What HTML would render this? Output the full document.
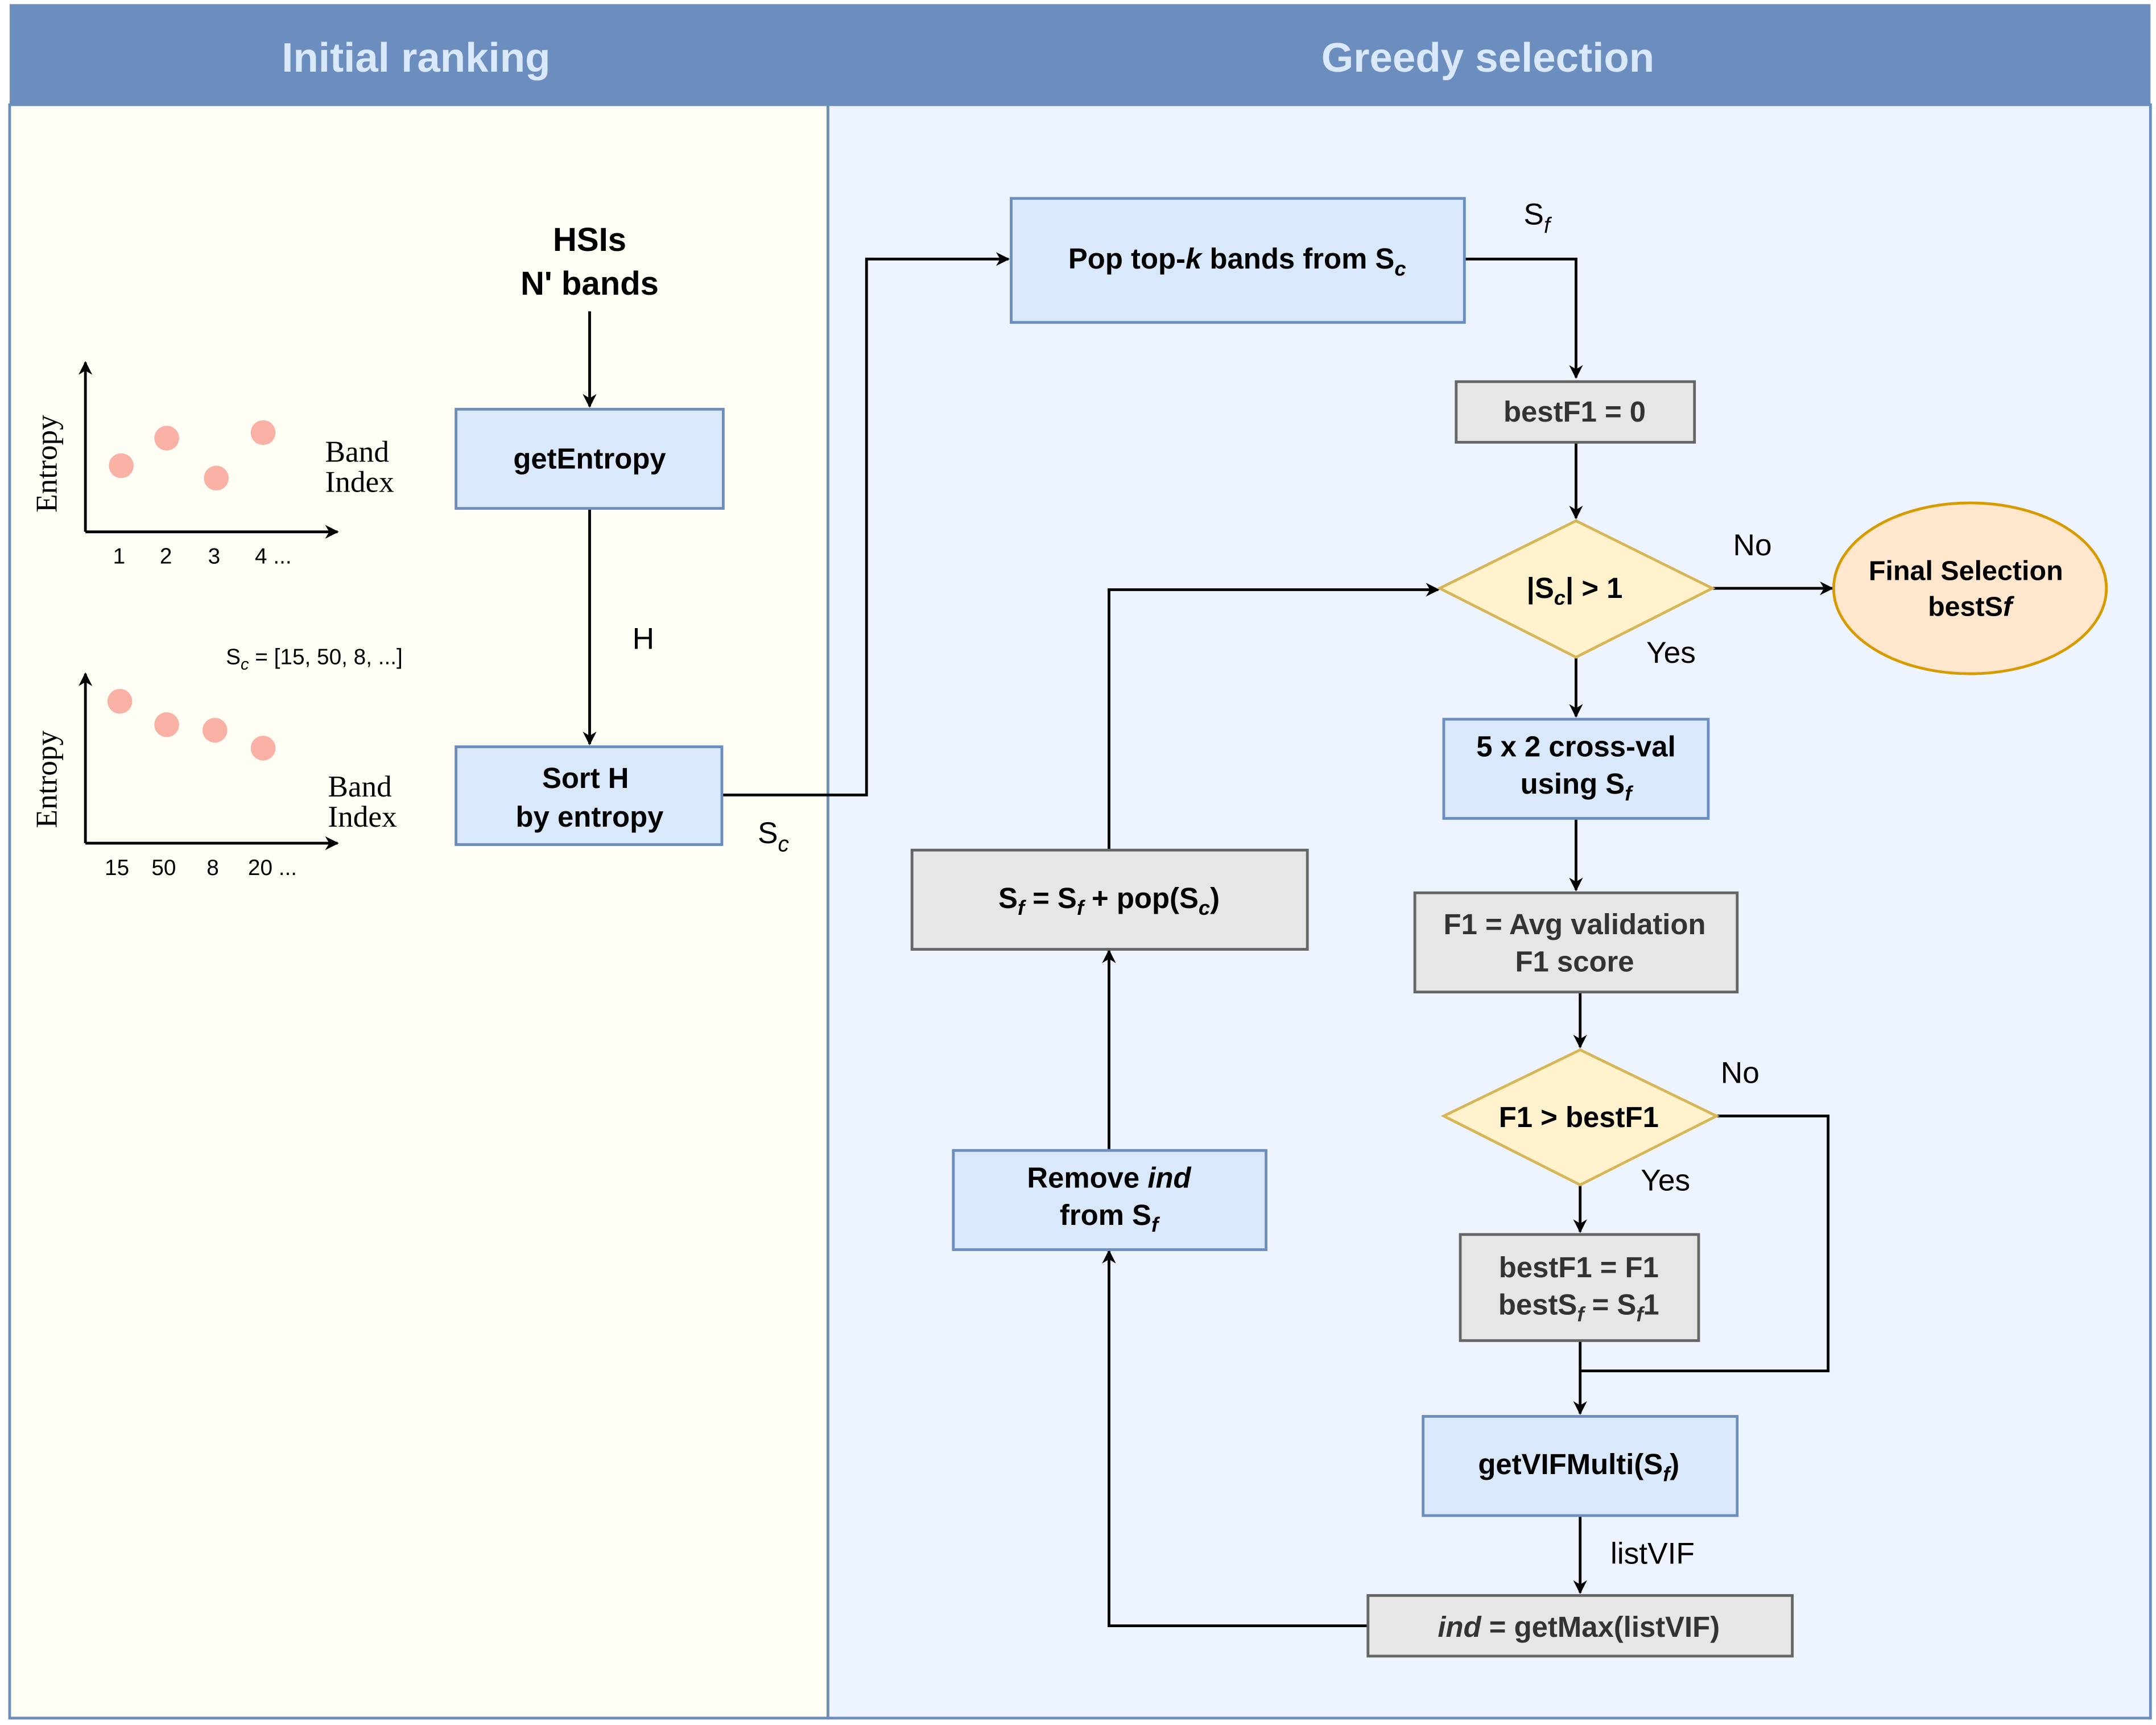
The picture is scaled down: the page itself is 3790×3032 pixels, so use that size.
<!DOCTYPE html>
<html><head><meta charset="utf-8"><style>html,body{margin:0;padding:0;background:#fff}svg{display:block}</style></head><body>
<svg width="3790" height="3032" viewBox="0 0 1565 1252" xmlns="http://www.w3.org/2000/svg" font-family="Liberation Sans, Arial, sans-serif">
<defs><marker id="a" markerWidth="10" markerHeight="10" refX="9" refY="5" orient="auto" markerUnits="userSpaceOnUse"><path d="M0,0 L10,5 L0,10 L3,5 z" fill="#000"/></marker></defs>
<rect x="0" y="0" width="1565" height="1252" fill="#fff"/>
<rect x="7" y="76" width="594" height="1171" fill="#fffef4" stroke="#6c8ebf" stroke-width="2"/>
<rect x="601" y="76" width="960" height="1171" fill="#eef4ff" stroke="#6c8ebf" stroke-width="2"/>
<rect x="7" y="3" width="1554" height="73" fill="#6c8ebf"/>
<text x="302" y="52" font-size="30" font-weight="bold" fill="#dae8fc" text-anchor="middle">Initial ranking</text>
<text x="1080" y="52" font-size="30" font-weight="bold" fill="#dae8fc" text-anchor="middle">Greedy selection</text>
<g font-weight="bold" font-size="24" text-anchor="middle">
<text x="428" y="182">HSIs</text><text x="428" y="214">N' bands</text></g>
<g stroke="#000" stroke-width="2" fill="none">
<line x1="62" y1="386" x2="62" y2="263" marker-end="url(#a)"/><line x1="62" y1="386" x2="245" y2="386" marker-end="url(#a)"/>
<line x1="62" y1="612" x2="62" y2="489" marker-end="url(#a)"/><line x1="62" y1="612" x2="245" y2="612" marker-end="url(#a)"/>
<line x1="428" y1="226" x2="428" y2="295" marker-end="url(#a)"/>
<line x1="428" y1="369" x2="428" y2="540" marker-end="url(#a)"/>
<polyline points="524,577 629,577 629,188 732,188" marker-end="url(#a)"/>
<polyline points="1063,188 1144,188 1144,274" marker-end="url(#a)"/>
<line x1="1144" y1="321" x2="1144" y2="376" marker-end="url(#a)"/>
<line x1="1243" y1="427" x2="1330" y2="427" marker-end="url(#a)"/>
<line x1="1144" y1="477" x2="1144" y2="520" marker-end="url(#a)"/>
<line x1="1144" y1="594" x2="1144" y2="646" marker-end="url(#a)"/>
<line x1="1147" y1="720" x2="1147" y2="760" marker-end="url(#a)"/>
<line x1="1147" y1="860" x2="1147" y2="894" marker-end="url(#a)"/>
<polyline points="1246,810 1327,810 1327,995 1147,995"/>
<line x1="1147" y1="973" x2="1147" y2="1026" marker-end="url(#a)"/>
<line x1="1147" y1="1100" x2="1147" y2="1156" marker-end="url(#a)"/>
<polyline points="993,1180 805,1180 805,908" marker-end="url(#a)"/>
<line x1="805" y1="834" x2="805" y2="690" marker-end="url(#a)"/>
<polyline points="805,617 805,428 1044,428" marker-end="url(#a)"/>
</g>
<g fill="#f8b1a4"><circle cx="88" cy="338" r="9"/><circle cx="121" cy="318" r="9"/><circle cx="157" cy="347" r="9"/><circle cx="191" cy="314" r="9"/>
<circle cx="87" cy="509" r="9"/><circle cx="121" cy="526" r="9"/><circle cx="156" cy="530" r="9"/><circle cx="191" cy="543" r="9"/></g>
<g font-family="Liberation Serif, serif" font-size="22">
<text x="236" y="335">Band</text><text x="236" y="357">Index</text>
<text x="238" y="578">Band</text><text x="238" y="600">Index</text>
<text transform="translate(41,372) rotate(-90)">Entropy</text>
<text transform="translate(41,601) rotate(-90)">Entropy</text></g>
<g font-size="16"><text x="82" y="409">1</text><text x="116" y="409">2</text><text x="151" y="409">3</text><text x="185" y="409">4 ...</text>
<text x="76" y="635">15</text><text x="110" y="635">50</text><text x="150" y="635">8</text><text x="180" y="635">20 ...</text>
<text x="164" y="482">S<tspan font-size="12" font-style="italic" dy="4">c</tspan><tspan dy="-4"> = [15, 50, 8, ...]</tspan></text></g>
<g font-size="22"><text x="459" y="471">H</text><text x="550" y="612">S<tspan font-size="16" font-style="italic" dy="6">c</tspan></text>
<text x="1106" y="163">S<tspan font-size="16" font-style="italic" dy="6">f</tspan></text>
<text x="1258" y="403">No</text><text x="1195" y="481">Yes</text><text x="1249" y="786">No</text><text x="1191" y="864">Yes</text>
<text x="1169" y="1135">listVIF</text></g>
<g stroke="#6c8ebf" stroke-width="2" fill="#dae8fc">
<rect x="331" y="297" width="194" height="72"/><rect x="331" y="542" width="193" height="71"/>
<rect x="734" y="144" width="329" height="90"/><rect x="1048" y="522" width="192" height="72"/>
<rect x="692" y="835" width="227" height="72"/><rect x="1033" y="1028" width="228" height="72"/></g>
<g stroke="#666" stroke-width="2" fill="#e6e6e6">
<rect x="1057" y="277" width="173" height="44"/><rect x="1027" y="648" width="234" height="72"/>
<rect x="1060" y="896" width="173" height="77"/><rect x="993" y="1158" width="308" height="44"/><rect x="662" y="617" width="287" height="72"/></g>
<g stroke="#d6b656" stroke-width="2" fill="#fff2cc">
<polygon points="1144,378 1243,427 1144,477 1045,427"/><polygon points="1147,762 1246,810 1147,860 1048,810"/></g>
<ellipse cx="1430" cy="427" rx="99" ry="62" fill="#ffe6cc" stroke="#d79b00" stroke-width="2"/>
<g font-size="21" font-weight="bold" text-anchor="middle" fill="#000">
<text x="428" y="340">getEntropy</text>
<text x="425" y="572">Sort H</text><text x="428" y="600">by entropy</text>
<text x="898" y="195">Pop top-<tspan font-style="italic">k</tspan> bands from S<tspan font-size="15" font-style="italic" dy="5">c</tspan></text>
<text x="1143" y="306" fill="#333">bestF1 = 0</text>
<text x="1143" y="434">|S<tspan font-size="15" font-style="italic" dy="5">c</tspan><tspan dy="-5">| &gt; 1</tspan></text>
<text x="1427" y="421" font-size="20">Final Selection</text><text x="1430" y="447" font-size="20">bestS<tspan font-style="italic">f</tspan></text>
<text x="1144" y="549">5 x 2 cross-val</text><text x="1144" y="576">using S<tspan font-size="15" font-style="italic" dy="5">f</tspan></text>
<text x="1143" y="678" fill="#333">F1 = Avg validation</text><text x="1143" y="705" fill="#333">F1 score</text>
<text x="1146" y="818">F1 &gt; bestF1</text>
<text x="1146" y="927" fill="#333">bestF1 = F1</text><text x="1146" y="954" fill="#333">bestS<tspan font-size="15" font-style="italic" dy="5">f</tspan><tspan dy="-5"> = S</tspan><tspan font-size="15" font-style="italic" dy="5">f</tspan><tspan dy="-5">1</tspan></text>
<text x="1146" y="1070">getVIFMulti(S<tspan font-size="15" font-style="italic" dy="5">f</tspan><tspan dy="-5">)</tspan></text>
<text x="1146" y="1188" fill="#333"><tspan font-style="italic">ind</tspan> = getMax(listVIF)</text>
<text x="805" y="862">Remove <tspan font-style="italic">ind</tspan></text><text x="805" y="889">from S<tspan font-size="15" font-style="italic" dy="5">f</tspan></text>
<text x="805" y="659">S<tspan font-size="15" font-style="italic" dy="5">f</tspan><tspan dy="-5"> = S</tspan><tspan font-size="15" font-style="italic" dy="5">f</tspan><tspan dy="-5">  + pop(S</tspan><tspan font-size="15" font-style="italic" dy="5">c</tspan><tspan dy="-5">)</tspan></text>
</g>
</svg>
</body></html>
